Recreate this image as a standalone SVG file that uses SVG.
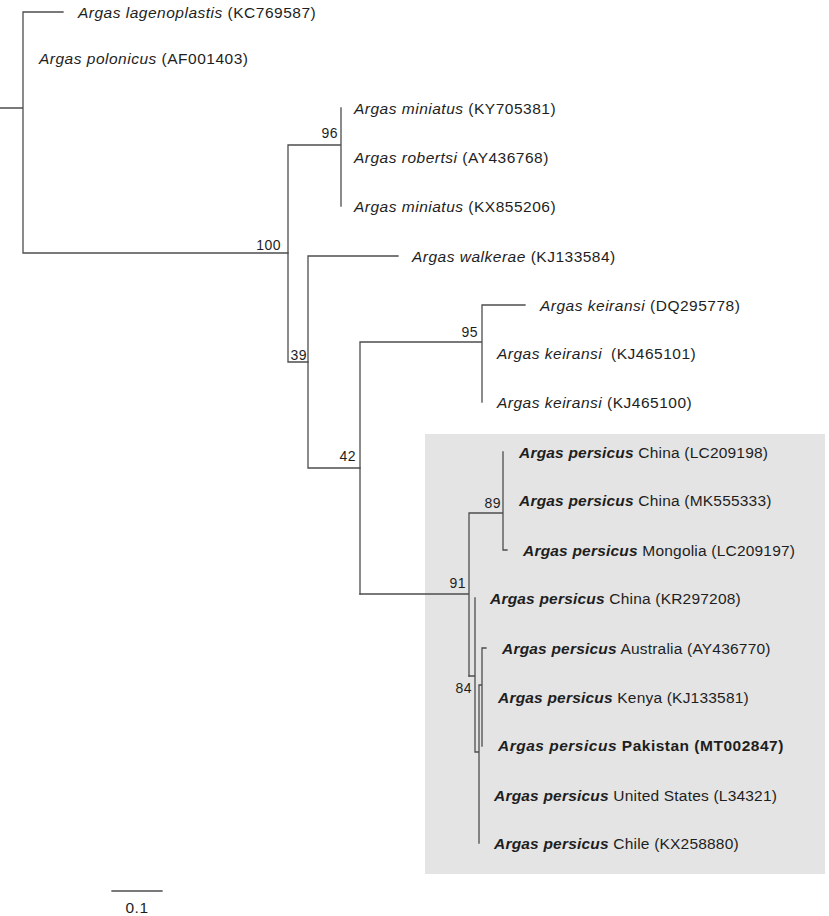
<svg xmlns="http://www.w3.org/2000/svg" width="829" height="916" viewBox="0 0 829 916">
<style>
.br{stroke:#4d4d4d;stroke-width:1.3;fill:none;stroke-linecap:square}
.lb{font-family:"Liberation Sans",Arial,sans-serif;font-size:15.5px;fill:#1e1e1e;letter-spacing:0.5px}
.p{letter-spacing:0.2px}
.i{font-style:italic}
.b{font-weight:bold}
.bs{font-family:"Liberation Sans",Arial,sans-serif;font-size:14px;fill:#1e1e1e;text-anchor:end;letter-spacing:0.5px}
</style>
<rect id="highlight" x="425" y="434" width="400" height="440" fill="#e4e4e4"/>
<g id="connectors">
<path class="br" d="M0 108H23M23 12V253M23 12H63M23 253H288"/>
<path class="br" d="M288 145V362M288 145H341M341 108V206M288 362H308"/>
<path class="br" d="M308 256V468M308 256H398M308 468H360"/>
<path class="br" d="M360 342V594M360 342H482M482 305V402M482 305H525"/>
<path class="br" d="M360 594H469M469 513V676M469 513H503M503 452V550M503 550H507"/>
<path class="br" d="M469 676H475M475 598V752M475 752H479M479 685V843M479 685H482M482 648V746M482 648H486"/>
<path class="br" d="M112 891H162"/>
</g>
<g id="bootstrap">
<text class="bs" x="281" y="250">100</text>
<text class="bs" x="338" y="138">96</text>
<text class="bs" x="307" y="360">39</text>
<text class="bs" x="478" y="337">95</text>
<text class="bs" x="356" y="461">42</text>
<text class="bs" x="501" y="508">89</text>
<text class="bs" x="466" y="588">91</text>
<text class="bs" x="472" y="693">84</text>
</g>
<g id="leaf-lagenoplastis"><text class="lb" x="78" y="17.5"><tspan class="i">Argas lagenoplastis</tspan> (KC769587)</text></g>
<g id="leaf-polonicus"><text class="lb" x="39" y="63.5"><tspan class="i">Argas polonicus</tspan> (AF001403)</text></g>
<g id="leaf-miniatus1"><text class="lb" x="354" y="113.5"><tspan class="i">Argas miniatus</tspan> (KY705381)</text></g>
<g id="leaf-robertsi"><text class="lb" x="354" y="162.5"><tspan class="i">Argas robertsi</tspan> (AY436768)</text></g>
<g id="leaf-miniatus2"><text class="lb" x="354" y="211.5"><tspan class="i">Argas miniatus</tspan> (KX855206)</text></g>
<g id="leaf-walkerae"><text class="lb" x="412" y="261.5"><tspan class="i">Argas walkerae</tspan> (KJ133584)</text></g>
<g id="leaf-keiransi1"><text class="lb" x="540" y="310.5"><tspan class="i">Argas keiransi</tspan> (DQ295778)</text></g>
<g id="leaf-keiransi2"><text class="lb" x="497" y="358.5"><tspan class="i">Argas keiransi</tspan> <tspan dx="4">(KJ465101)</tspan></text></g>
<g id="leaf-keiransi3"><text class="lb" x="497" y="407.5"><tspan class="i">Argas keiransi</tspan> (KJ465100)</text></g>
<g id="leaf-persicus-china1"><text class="lb p" x="519" y="457.5"><tspan class="i b">Argas persicus</tspan> China (LC209198)</text></g>
<g id="leaf-persicus-china2"><text class="lb p" x="519" y="505.5"><tspan class="i b">Argas persicus</tspan> China (MK555333)</text></g>
<g id="leaf-persicus-mongolia"><text class="lb p" x="523" y="555.5"><tspan class="i b">Argas persicus</tspan> Mongolia (LC209197)</text></g>
<g id="leaf-persicus-china3"><text class="lb p" x="490" y="603.5"><tspan class="i b">Argas persicus</tspan> China (KR297208)</text></g>
<g id="leaf-persicus-australia"><text class="lb p" x="502" y="653.5"><tspan class="i b">Argas persicus</tspan> Australia (AY436770)</text></g>
<g id="leaf-persicus-kenya"><text class="lb p" x="498" y="702.5"><tspan class="i b">Argas persicus</tspan> Kenya (KJ133581)</text></g>
<g id="leaf-persicus-pakistan"><text class="lb b" x="498" y="750.5"><tspan class="i">Argas persicus</tspan> Pakistan (MT002847)</text></g>
<g id="leaf-persicus-us"><text class="lb p" x="494" y="800.5"><tspan class="i b">Argas persicus</tspan> United States (L34321)</text></g>
<g id="leaf-persicus-chile"><text class="lb p" x="494" y="848.5"><tspan class="i b">Argas persicus</tspan> Chile (KX258880)</text></g>
<g id="scale"><text class="lb" x="137" y="913" text-anchor="middle">0.1</text></g>
</svg>
